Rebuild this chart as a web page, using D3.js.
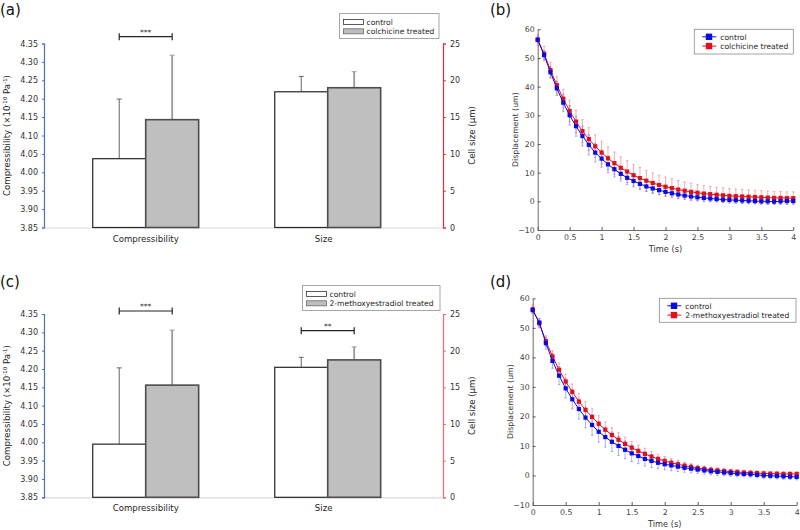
<!DOCTYPE html>
<html><head><meta charset="utf-8">
<script src="https://cdn.jsdelivr.net/npm/d3@7/dist/d3.min.js"></script>
<style>body{margin:0;background:#fff}svg{display:block;font-family:"DejaVu Sans",Verdana,sans-serif}</style>
</head><body><svg id="c" width="800" height="530"></svg>
<script>
// ---------- data ----------
const barCategories = ["Compressibility", "Size"];
const barGroups = ["control", "treated"];
const compTicks = [3.85, 3.90, 3.95, 4.00, 4.05, 4.10, 4.15, 4.20, 4.25, 4.30, 4.35];
const sizeTicks = [0, 5, 10, 15, 20, 25];

// panel (a): colchicine
const aLegend = ["control", "colchicine treated"];
const aCompMean = [4.037, 4.143];
const aCompErr = [0.162, 0.175];
const aSizeMean = [18.44, 18.99];
const aSizeErr = [2.09, 2.18];
const aSig = [{cat: "Compressibility", label: "***"}];

// panel (c): 2-methoxyestradiol
const cLegend = ["control", "2-methoxyestradiol treated"];
const cCompMean = [3.995, 4.156];
const cCompErr = [0.208, 0.150];
const cSizeMean = [17.73, 18.74];
const cSizeErr = [1.36, 1.77];
const cSig = [{cat: "Compressibility", label: "***"}, {cat: "Size", label: "**"}];

// line panels
const timeTicks = [0, 0.5, 1, 1.5, 2, 2.5, 3, 3.5, 4];
const dispTicks = [-10, 0, 10, 20, 30, 40, 50, 60];
const times = [0,0.1,0.2,0.3,0.4,0.5,0.6,0.7,0.8,0.9,1.0,1.1,1.2,1.3,1.4,1.5,1.6,1.7,1.8,1.9,2.0,
               2.1,2.2,2.3,2.4,2.5,2.6,2.7,2.8,2.9,3.0,3.1,3.2,3.3,3.4,3.5,3.6,3.7,3.8,3.9,4.0];

const bCtrl = [56.4,51.0,45.0,39.4,34.4,30.0,26.2,22.8,19.7,17.0,14.9,12.9,11.2,9.6,8.2,7.1,6.1,5.2,4.5,3.9,3.3,
               2.8,2.4,2.0,1.7,1.4,1.2,1.0,0.8,0.6,0.5,0.4,0.3,0.2,0.1,0.0,0.0,-0.1,0.0,0.1,0.1];
const bCtrlErr = [1.0,1.5,2.0,2.5,3.0,3.4,3.5,3.5,3.5,3.3,3.0,2.9,2.7,2.5,2.3,2.1,2.0,1.8,1.7,1.5,1.4,
                  1.3,1.3,1.2,1.2,1.1,1.1,1.1,1.0,1.0,1.0,1.0,1.0,1.0,1.0,1.0,1.0,1.0,1.0,1.0,1.0];
const bTrt = [56.3,51.5,45.8,40.5,35.8,31.5,27.8,24.5,21.7,19.2,17.0,15.0,13.3,11.7,10.4,9.1,8.1,7.2,6.4,5.7,5.1,
              4.6,4.1,3.7,3.3,3.0,2.7,2.5,2.3,2.1,1.9,1.8,1.7,1.6,1.5,1.4,1.3,1.2,1.2,1.1,1.1];
const bTrtErr = [2.0,2.5,2.7,3.0,3.3,3.8,4.0,4.0,4.0,4.0,4.0,4.0,3.9,3.8,3.8,3.7,3.7,3.6,3.5,3.4,3.4,
                 3.3,3.2,3.1,3.0,2.9,2.8,2.7,2.6,2.6,2.5,2.5,2.4,2.4,2.3,2.3,2.3,2.2,2.2,2.2,2.2];

const dCtrl = [56.0,51.8,44.8,38.8,33.8,29.5,25.8,22.5,19.6,17.1,14.8,13.0,11.4,10.0,8.7,7.5,6.6,5.6,4.9,4.3,3.8,
               3.4,3.0,2.6,2.3,2.0,1.7,1.4,1.2,1.0,0.8,0.6,0.5,0.4,0.2,0.0,-0.1,-0.2,-0.3,-0.4,-0.5];
const dCtrlErr = [1.0,1.5,2.0,2.5,3.0,3.2,3.3,3.4,3.5,3.5,3.5,3.4,3.3,3.2,3.0,2.8,2.6,2.4,2.2,2.0,1.9,
                  1.8,1.6,1.5,1.4,1.3,1.3,1.2,1.2,1.1,1.1,1.1,1.0,1.0,1.0,1.0,1.0,1.0,1.0,1.0,1.0];
const dTrt = [56.3,51.5,45.5,40.3,35.8,31.8,28.3,25.0,22.2,19.8,17.5,15.5,13.7,12.1,10.7,9.4,8.3,7.3,6.4,5.6,4.9,
              4.3,3.8,3.3,2.9,2.5,2.2,1.9,1.7,1.5,1.3,1.2,1.0,0.9,0.8,0.7,0.6,0.6,0.5,0.5,0.5];
const dTrtErr = [1.5,1.5,1.8,2.0,2.3,2.5,2.7,2.8,2.8,2.8,2.7,2.6,2.5,2.4,2.3,2.1,2.0,1.9,1.7,1.6,1.5,
                 1.4,1.3,1.2,1.1,1.0,1.0,0.9,0.9,0.9,0.8,0.8,0.8,0.8,0.8,0.8,0.8,0.8,0.8,0.8,0.8];

const svg = d3.select("#c");

function panelLabel(x, y, t) {
  svg.append("text").attr("x", x).attr("y", y).attr("font-size", 15).attr("fill", "#111").text(t);
}

function barPanel(o) {
  const g = svg.append("g");
  const yL = d3.scaleLinear().domain([3.85, 4.35]).range([o.y1, o.y0]);
  const yR = d3.scaleLinear().domain([0, 25]).range([o.y1, o.y0]);
  const xCat = d3.scaleBand().domain(barCategories).range([54.7, 418.7]).paddingInner(0.418).paddingOuter(0.209);
  const xSub = d3.scaleBand().domain(barGroups).range([0, xCat.bandwidth()]);

  g.append("line").attr("x1", o.x0).attr("x2", o.x1).attr("y1", o.y1 + 0.5).attr("y2", o.y1 + 0.5)
    .attr("stroke", "#d9d9d9").attr("stroke-width", 1.2);

  const series = [
    {cat: "Compressibility", y: yL, mean: o.comp, err: o.compErr},
    {cat: "Size", y: yR, mean: o.size, err: o.sizeErr}
  ];
  series.forEach(s => {
    barGroups.forEach((grp, i) => {
      const bx = xCat(s.cat) + xSub(grp);
      const top = s.y(s.mean[i]);
      const cx = bx + xSub.bandwidth() / 2;
      const et = s.y(s.mean[i] + s.err[i]);
      g.append("line").attr("x1", cx).attr("x2", cx).attr("y1", top).attr("y2", et)
        .attr("stroke", i === 0 ? "#666" : "#9a9a9a").attr("stroke-width", i === 0 ? 1 : 1.8);
      g.append("line").attr("x1", cx - 2.5).attr("x2", cx + 2.5).attr("y1", et).attr("y2", et)
        .attr("stroke", i === 0 ? "#666" : "#9a9a9a").attr("stroke-width", 1);
      g.append("rect").attr("x", bx).attr("y", top).attr("width", xSub.bandwidth()).attr("height", o.y1 - top)
        .attr("fill", i === 0 ? "#ffffff" : "#bfbfbf")
        .attr("stroke", i === 0 ? "#262626" : "#4d4d4d").attr("stroke-width", i === 0 ? 1.2 : 1.6);
    });
    g.append("text").attr("x", xCat(s.cat) + xCat.bandwidth() / 2 - (s.cat === "Size" ? 4 : 0)).attr("y", o.y1 + 14)
      .attr("text-anchor", "middle").attr("font-size", 8.6).attr("fill", "#262626").text(s.cat);
  });

  o.sig.forEach(sg => {
    const xa = xCat(sg.cat) + xSub("control") + xSub.bandwidth() / 2;
    const xb = xCat(sg.cat) + xSub("treated") + xSub.bandwidth() / 2;
    const by = sg.cat === "Compressibility" ? o.compBracketY : o.sizeBracketY;
    g.append("line").attr("x1", xa).attr("x2", xb).attr("y1", by).attr("y2", by).attr("stroke", "#222").attr("stroke-width", 1.2);
    [xa, xb].forEach(xx => g.append("line").attr("x1", xx).attr("x2", xx).attr("y1", by - 3.5).attr("y2", by + 3.5)
      .attr("stroke", "#222").attr("stroke-width", 1.2));
    g.append("text").attr("x", (xa + xb) / 2).attr("y", by - 2).attr("text-anchor", "middle")
      .attr("font-size", 7.5).attr("fill", "#333").text(sg.label);
  });

  const la = g.append("g").attr("transform", `translate(${o.x0},0)`)
    .call(d3.axisLeft(yL).tickValues(compTicks).tickFormat(d3.format(".2f")).tickSize(2).tickPadding(4));
  la.select(".domain").attr("stroke", "#4a6fb5").attr("stroke-width", 1.2);
  la.selectAll(".tick line").attr("stroke", "#4a6fb5");
  la.selectAll("text").attr("font-size", 8).attr("fill", "#333").attr("font-family", "DejaVu Sans");

  const ra = g.append("g").attr("transform", `translate(${o.x1},0)`)
    .call(d3.axisRight(yR).tickValues(sizeTicks).tickSize(3).tickPadding(4));
  ra.select(".domain").attr("stroke", o.rightColor).attr("stroke-width", 1.2);
  ra.selectAll(".tick line").attr("stroke", o.rightColor);
  ra.selectAll("text").attr("font-size", 8).attr("fill", "#333").attr("font-family", "DejaVu Sans");

  const mid = (o.y0 + o.y1) / 2;
  const lt = g.append("text").attr("transform", `translate(10,${mid}) rotate(-90)`).attr("text-anchor", "middle")
    .attr("font-size", 8.6).attr("fill", "#262626");
  lt.append("tspan").text("Compressibility (×10");
  lt.append("tspan").attr("dy", -3.5).attr("font-size", 5.5).text("-10");
  lt.append("tspan").attr("dy", 3.5).text(" Pa");
  lt.append("tspan").attr("dy", -3.5).attr("font-size", 5.5).text("-1");
  lt.append("tspan").attr("dy", 3.5).text(")");
  g.append("text").attr("transform", `translate(475,${mid}) rotate(-90)`).attr("text-anchor", "middle")
    .attr("font-size", 8.6).attr("fill", "#262626").text("Cell size (μm)");

  const L = o.legend;
  g.append("rect").attr("x", L.x).attr("y", L.y).attr("width", L.w).attr("height", L.h)
    .attr("fill", "#fff").attr("stroke", "#a6a6a6").attr("stroke-width", 1);
  o.legendLabels.forEach((lab, i) => {
    const yy = L.y + 6 + i * 9.3;
    g.append("rect").attr("x", L.x + 4).attr("y", yy).attr("width", 20).attr("height", 5)
      .attr("fill", i === 0 ? "#fff" : "#bfbfbf").attr("stroke", i === 0 ? "#333" : "#666").attr("stroke-width", 0.8);
    g.append("text").attr("x", L.x + 27).attr("y", yy + 5).attr("font-size", 7.6).attr("fill", "#262626").text(lab);
  });
}

function linePanel(o) {
  const g = svg.append("g");
  const x = d3.scaleLinear().domain([0, 4]).range([o.x0, o.x1]);
  const y = d3.scaleLinear().domain([-10, 60]).range([o.y1, o.y0]);

  const xa = g.append("g").attr("transform", `translate(0,${o.y1})`)
    .call(d3.axisBottom(x).tickValues(timeTicks).tickSize(-3).tickSizeOuter(0).tickPadding(4).tickFormat(d => String(d)));
  const ya = g.append("g").attr("transform", `translate(${o.x0},0)`)
    .call(d3.axisLeft(y).tickValues(dispTicks).tickSize(-3).tickSizeOuter(0).tickPadding(3));
  [xa, ya].forEach(a => {
    a.select(".domain").attr("stroke", "#5a5a5a").attr("stroke-width", 0.9);
    a.selectAll(".tick line").attr("stroke", "#5a5a5a");
    a.selectAll("text").attr("font-size", 7.8).attr("fill", "#444").attr("font-family", "DejaVu Sans");
  });
  g.append("text").attr("x", (o.x0 + o.x1) / 2).attr("y", o.y1 + 22).attr("text-anchor", "middle")
    .attr("font-size", 8.2).attr("fill", "#333").text("Time (s)");
  g.append("text").attr("transform", `translate(${o.x0 - 20},${(o.y0 + o.y1) / 2}) rotate(-90)`)
    .attr("text-anchor", "middle").attr("font-size", 7.8).attr("fill", "#333").text("Displacement (um)");

  const series = [
    {vals: o.trt, err: o.trtErr, col: "#e0101c", ecol: "rgba(240,90,90,0.55)"},
    {vals: o.ctrl, err: o.ctrlErr, col: "#0a0ae6", ecol: "rgba(90,90,235,0.55)"}
  ];
  series.forEach(s => {
    const eg = g.append("g");
    times.forEach((t, i) => {
      const cx = x(t);
      eg.append("line").attr("x1", cx).attr("x2", cx).attr("y1", y(s.vals[i] - s.err[i])).attr("y2", y(s.vals[i] + s.err[i]))
        .attr("stroke", s.ecol).attr("stroke-width", 0.9);
      [s.vals[i] - s.err[i], s.vals[i] + s.err[i]].forEach(v =>
        eg.append("line").attr("x1", cx - 1.2).attr("x2", cx + 1.2).attr("y1", y(v)).attr("y2", y(v))
          .attr("stroke", s.ecol).attr("stroke-width", 0.9));
    });
  });
  series.forEach(s => {
    g.append("path").datum(times.map((t, i) => [t, s.vals[i]]))
      .attr("d", d3.line().x(d => x(d[0])).y(d => y(d[1])))
      .attr("fill", "none").attr("stroke", s.col).attr("stroke-width", 1);
    g.selectAll(null).data(times.map((t, i) => [t, s.vals[i]])).enter().append("rect")
      .attr("x", d => x(d[0]) - 2.1).attr("y", d => y(d[1]) - 2.1).attr("width", 4.2).attr("height", 4.2)
      .attr("fill", s.col);
  });

  const L = o.legend;
  g.append("rect").attr("x", L.x).attr("y", L.y).attr("width", L.w).attr("height", L.h)
    .attr("fill", "#fff").attr("stroke", "#8c8c8c").attr("stroke-width", 0.8);
  [{lab: o.labels[0], col: "#0a0ae6"}, {lab: o.labels[1], col: "#e0101c"}].forEach((e, i) => {
    const yy = L.y + 7.5 + i * 9.3;
    g.append("line").attr("x1", L.x + 8).attr("x2", L.x + 22).attr("y1", yy).attr("y2", yy).attr("stroke", e.col).attr("stroke-width", 1);
    g.append("rect").attr("x", L.x + 11.5).attr("y", yy - 3.2).attr("width", 6.4).attr("height", 6.4).attr("fill", e.col);
    g.append("text").attr("x", L.x + 26).attr("y", yy + 2.8).attr("font-size", 7.6).attr("fill", "#262626").text(e.lab);
  });
}

panelLabel(0, 15, "(a)");
panelLabel(490, 15, "(b)");
panelLabel(0, 287, "(c)");
panelLabel(490, 287, "(d)");

barPanel({x0: 44, x1: 443, y0: 43.5, y1: 227.5, comp: aCompMean, compErr: aCompErr, size: aSizeMean, sizeErr: aSizeErr,
  sig: aSig, compBracketY: 36.7, sizeBracketY: 0, rightColor: "#e0303a",
  legend: {x: 339.5, y: 13.5, w: 99.5, h: 25}, legendLabels: aLegend});
barPanel({x0: 44, x1: 443, y0: 314, y1: 497.3, comp: cCompMean, compErr: cCompErr, size: cSizeMean, sizeErr: cSizeErr,
  sig: cSig, compBracketY: 311, sizeBracketY: 330.7, rightColor: "#f06a72",
  legend: {x: 302.5, y: 285.5, w: 137.5, h: 25}, legendLabels: cLegend});

linePanel({x0: 537.7, x1: 793.3, y0: 29.3, y1: 230, ctrl: bCtrl, ctrlErr: bCtrlErr, trt: bTrt, trtErr: bTrtErr,
  labels: ["control", "colchicine treated"], legend: {x: 694.3, y: 29.3, w: 99, h: 24.7}});
linePanel({x0: 532.7, x1: 796.7, y0: 298.3, y1: 505, ctrl: dCtrl, ctrlErr: dCtrlErr, trt: dTrt, trtErr: dTrtErr,
  labels: ["control", "2-methoxyestradiol treated"], legend: {x: 659.3, y: 298.3, w: 136.7, h: 24}});
</script></body></html>
